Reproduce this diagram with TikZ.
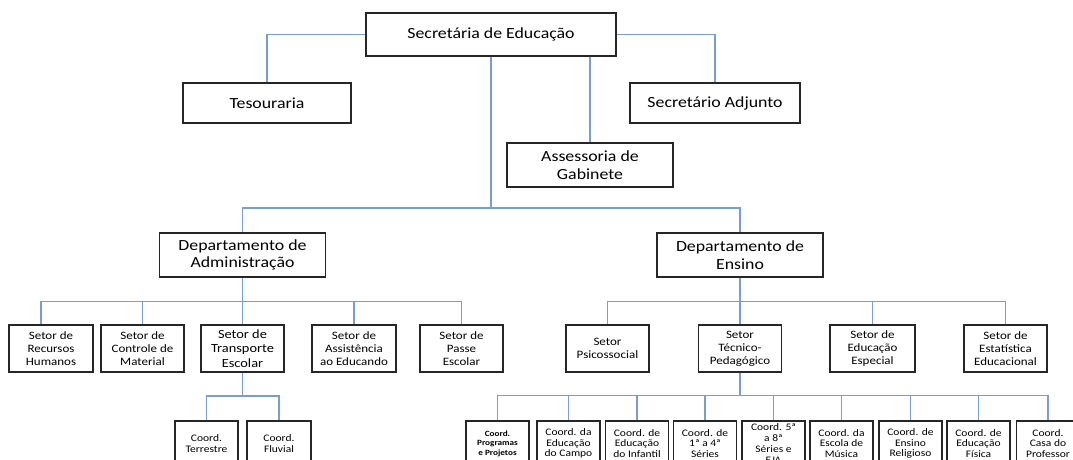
\documentclass[tikz,border=0pt]{standalone}
\usepackage{fontspec}
\setmainfont[FakeStretch=1.15]{Carlito}
\usetikzlibrary{calc}

\definecolor{linkblue}{RGB}{120,158,208}

\begin{document}
\begin{tikzpicture}[x=1pt,y=-1pt,
  box/.style={draw=black!85,line width=1.2pt,fill=white,align=center,inner sep=0pt},
  chief/.style={box,minimum height=42pt,font=\fontsize{15.5}{17.5}\selectfont},
  dept/.style={box,minimum width=166pt,minimum height=44pt,font=\fontsize{15.5}{17.5}\selectfont},
  setor/.style={box,minimum width=83pt,minimum height=47pt,font=\fontsize{11.3}{13}\selectfont},
  coord/.style={box,minimum width=63pt,minimum height=45pt,font=\fontsize{10}{10.8}\selectfont},
  link/.style={draw=linkblue,line width=1.1pt}]

  \useasboundingbox (0,0) rectangle (1073,459);

  % top level
  \node[chief,minimum width=250pt,minimum height=43pt] (sec) at (491,34.5) {Secretária de Educação};
  \node[chief,minimum width=168pt,minimum height=40pt] (tes) at (267,103) {Tesouraria};
  \node[chief,minimum width=170pt,minimum height=40pt] (adj) at (715,103) {Secretário Adjunto};
  \node[chief,minimum width=166pt,minimum height=44pt] (gab) at (590,165) {Assessoria de\\Gabinete};

  % departments
  \node[dept] (adm) at (242.5,255) {Departamento de\\Administração};
  \node[dept] (ens) at (740,255) {Departamento de\\Ensino};

  % setores of administração
  \node[setor,minimum width=84pt] (rh) at (51,348.5) {Setor de\\Recursos\\Humanos};
  \node[setor] (mat) at (142.5,348.5) {Setor de\\Controle de\\Material};
  \node[setor,font=\fontsize{12.5}{14.3}\selectfont] (tra) at (242.5,348.5) {Setor de\\Transporte\\Escolar};
  \node[setor,minimum width=84pt] (edu) at (354,348.5) {Setor de\\Assistência\\ao Educando};
  \node[setor] (pas) at (461.5,348.5) {Setor de\\Passe\\Escolar};

  % setores of ensino
  \node[setor] (psi) at (607.5,348.5) {Setor\\Psicossocial};
  \node[setor] (tec) at (740,348.5) {Setor\\Técnico-\\Pedagógico};
  \node[setor,minimum width=85pt] (esp) at (872.5,348.5) {Setor de\\Educação\\Especial};
  \node[setor] (est) at (1005.5,348.5) {Setor de\\Estatística\\Educacional};

  % transporte
  \node[coord] (ter) at (206.5,443.5) {Coord.\\Terrestre};
  \node[coord,minimum width=64pt] (flu) at (279,443.5) {Coord.\\Fluvial};

  % técnico-pedagógico
  \node[coord,font=\bfseries\fontsize{8}{9.5}\selectfont] (c1) at (497.5,443.5) {Coord.\\Programas\\e Projetos};
  \node[coord] (c2) at (568.5,443.5) {Coord. da\\Educação\\do Campo};
  \node[coord] (c3) at (637,443.5) {Coord. de\\Educação\\do Infantil};
  \node[coord] (c4) at (705,443.5) {Coord. de\\1ª a 4ª\\Séries};
  \node[coord] (c5) at (773.5,443.5) {Coord. 5ª\\a 8ª\\Séries e\\EJA};
  \node[coord] (c6) at (841.5,443.5) {Coord. da\\Escola de\\Música};
  \node[coord] (c7) at (910.5,443.5) {Coord. de\\Ensino\\Religioso};
  \node[coord] (c8) at (978.5,443.5) {Coord. de\\Educação\\Física};
  \node[coord] (c9) at (1048,443.5) {Coord.\\Casa do\\Professor};

  % bus points
  \coordinate (j0) at (491,208);
  \coordinate (j1) at (242.5,301.5);
  \coordinate (j2) at (740,301.5);
  \coordinate (j3) at (242.5,396);
  \coordinate (j4) at (740,395.5);

  % connectors
  \draw[link] (sec.west) -| (tes.north);
  \draw[link] (sec.east) -| (adj.north);
  \draw[link] (sec.south -| gab.north) -- (gab.north);
  \draw[link] (sec.south) -- (j0);
  \draw[link] (adm.north) |- (j0) -| (ens.north);

  \draw[link] (adm.south) -- (j1);
  \draw[link] (j1) -| ($(rh.north)+(-10,0)$);
  \foreach \n in {mat,tra,edu,pas}
    \draw[link] (j1) -| (\n.north);

  \draw[link] (ens.south) -- (j2);
  \foreach \n in {psi,tec,esp,est}
    \draw[link] (j2) -| (\n.north);

  \draw[link] (tra.south) -- (j3);
  \draw[link] (ter.north) |- (j3) -| (flu.north);

  \draw[link] (tec.south) -- (j4);
  \foreach \n in {c1,c2,c3,c4,c5,c6,c7,c8,c9}
    \draw[link] (j4) -| (\n.north);

\end{tikzpicture}
\end{document}
